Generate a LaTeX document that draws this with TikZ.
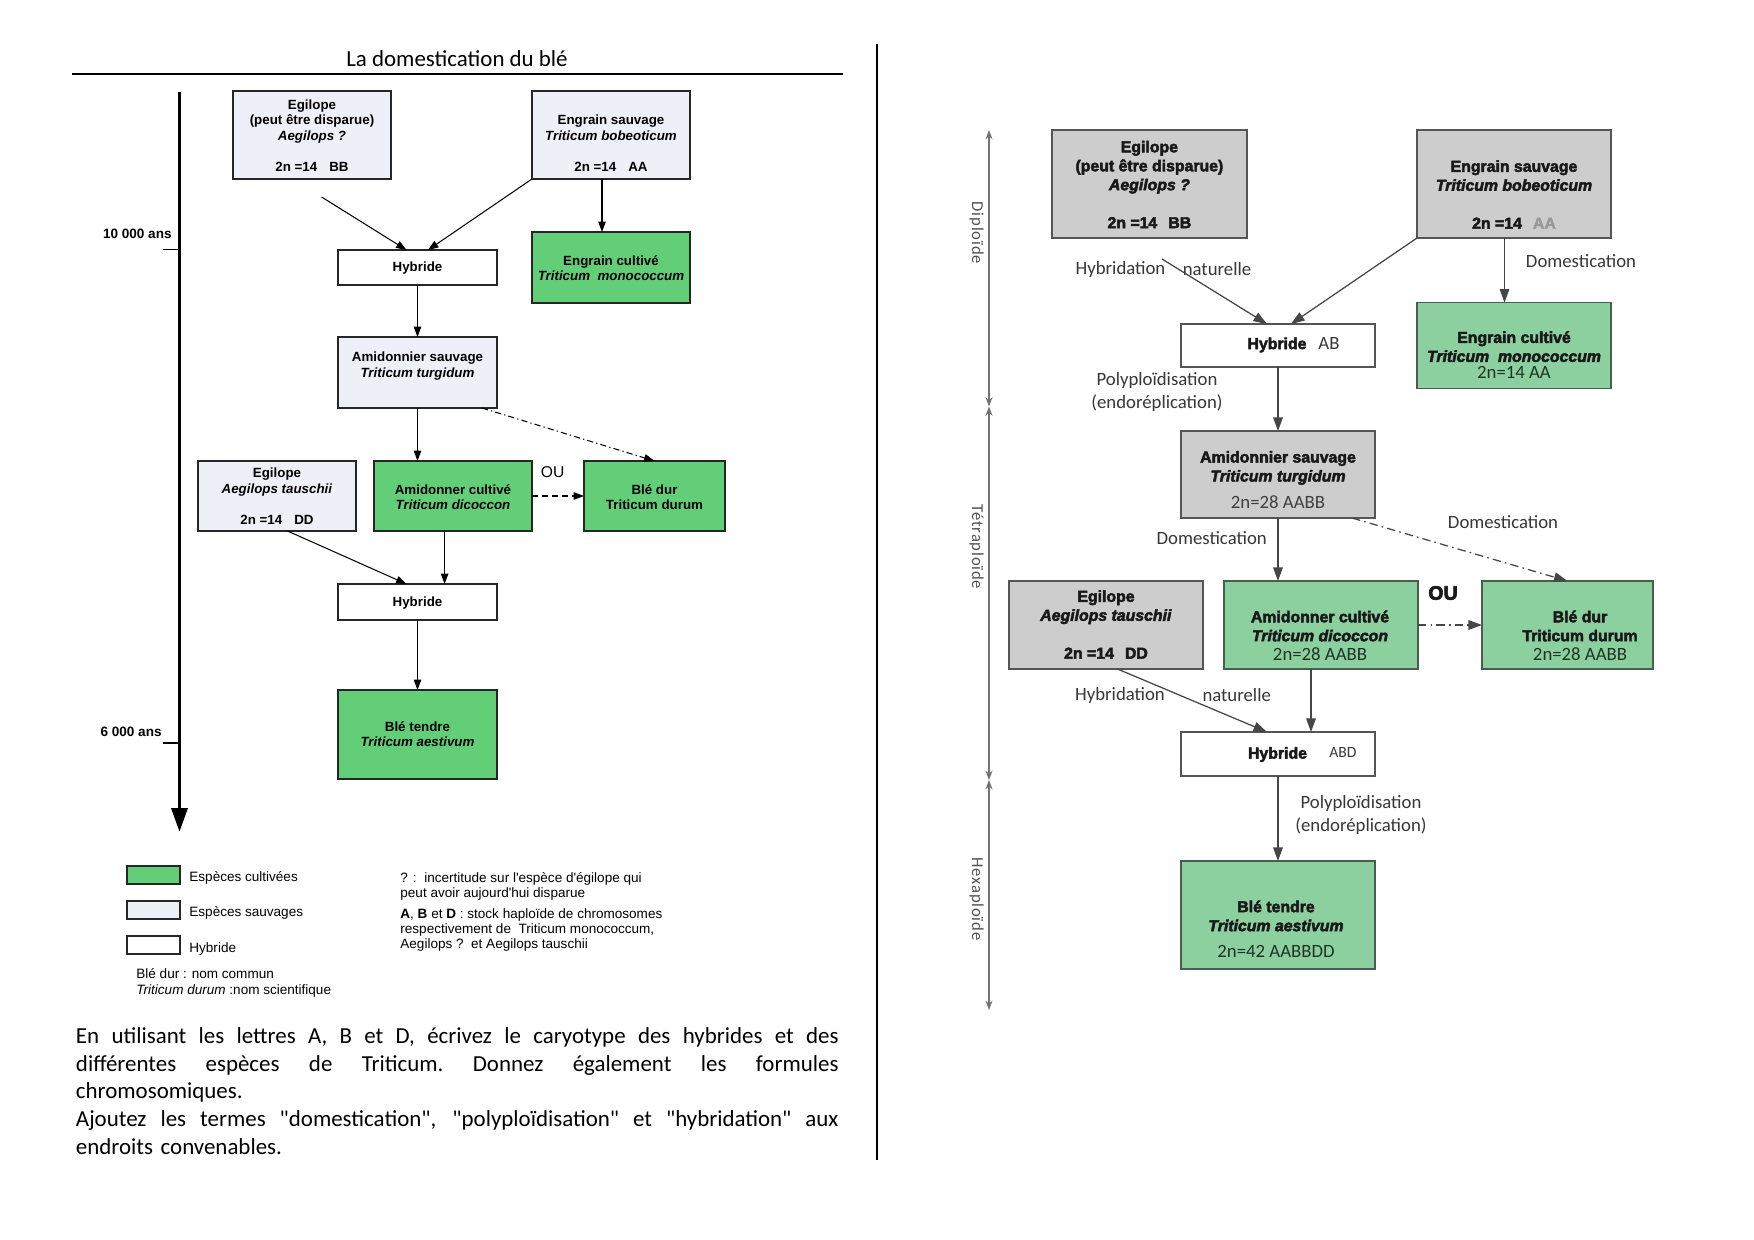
\documentclass[tikz,border=0pt]{standalone}
\usepackage{fontspec}
\setmainfont{Carlito}
\newfontfamily\arial{Liberation Sans}
\newfontfamily\heavy[BoldFeatures={FakeBold=3},BoldItalicFeatures={FakeBold=3}]{Liberation Sans}
\newfontfamily\calib{Carlito}
\newfontfamily\calibsp[LetterSpace=5]{Carlito}
\newcommand\sq{\XeTeXglyph\XeTeXcharglyph"22\relax}
\newcommand\jline[1]{\noindent\hbox to 366pt{\spaceskip=0.226em plus 2em\relax\xspaceskip=\spaceskip #1}}
\usetikzlibrary{arrows.meta,calc}
\definecolor{lgreen}{RGB}{99,206,120}
\definecolor{lwildc}{RGB}{238,240,248}
\definecolor{rgrayc}{RGB}{205,205,205}
\definecolor{rborder}{RGB}{85,85,85}
\definecolor{rgreen}{RGB}{141,208,160}
\definecolor{rgreenb}{RGB}{70,95,78}
\definecolor{rtext}{RGB}{25,25,25}
\definecolor{labc}{RGB}{55,55,55}
\definecolor{gtext}{RGB}{30,52,36}
\definecolor{rarrc}{RGB}{70,70,70}
\begin{document}
\begin{tikzpicture}[x=0.48pt,y=-0.48pt,
  wh/.style 2 args={minimum width=#1*0.48pt, minimum height=#2*0.48pt},
  boxbase/.style={draw, inner sep=0pt, outer sep=0pt, line width=0.7pt},
  lwild/.style={boxbase, fill=lwildc, draw=black!85},
  lcult/.style={boxbase, fill=lgreen, draw=black!85},
  lhyb/.style={boxbase, fill=white, draw=black!85},
  ltxt/.style={font=\arial\bfseries\fontsize{6.4}{7.5}\selectfont, align=center, inner sep=0pt},
  lsmall/.style={font=\arial\fontsize{6.5}{7.5}\selectfont, inner sep=0pt, align=left},
  rgray/.style={boxbase, fill=rgrayc, draw=rborder},
  rcult/.style={boxbase, fill=rgreen, draw=rgreenb},
  rhyb/.style={boxbase, fill=white, draw=rborder},
  rtxt/.style={font=\heavy\bfseries\fontsize{7.6}{9.1}\selectfont, align=center, inner sep=0pt, text=rtext},
  clab/.style={font=\calib\fontsize{9}{10.5}\selectfont, inner sep=0pt, text=labc},
  ploid/.style={font=\calibsp\fontsize{8}{9}\selectfont, inner sep=0pt, text=black!68, rotate=-90},
  larr/.style={draw=black, line width=0.5pt, -{Triangle[length=5pt,width=3.6pt]}},
  rarr/.style={draw=rarrc, line width=0.6pt, -{Triangle[length=6.5pt,width=4.6pt]}},
  scalearr/.style={draw=black!55, line width=0.5pt, {Stealth[length=4.5pt,width=3.4pt]}-{Stealth[length=4.5pt,width=3.4pt]}},
  ldashdot/.style={dash pattern=on 3pt off 1.5pt on 0.6pt off 1.5pt},
  rdashdot/.style={dash pattern=on 4pt off 2pt on 0.8pt off 2pt}
]
\useasboundingbox (0,0) rectangle (1754,1240);
\fill[white] (0,0) rectangle (1754,1240);

% ---------------- LEFT PAGE ----------------
\node[font=\fontsize{11}{13}\selectfont, inner sep=0pt] (title) at (457,59) {La domestication du blé};
\coordinate (ruleL) at (71.6,74);
\coordinate (ruleR) at (843,74);
\draw[line width=0.7pt] (ruleL) -- (ruleR);

% divider
\coordinate (divT) at (877,44);
\coordinate (divB) at (877,1160);
\draw[line width=1.2pt] (divT) -- (divB);

% timeline
\coordinate (tl0) at (179.5,92);
\coordinate (tl1) at (179.5,832);
\draw[line width=1.9pt, -{Triangle[length=11.5pt,width=7.6pt]}] (tl0) -- (tl1);
\coordinate (tk1a) at (163,249.3);
\coordinate (tk2a) at (163,743);
\draw[line width=0.5pt] (tk1a) -- (tk1a -| tl0);
\draw[line width=0.5pt] (tk2a) -- (tk2a -| tl0);
\node[font=\arial\bfseries\fontsize{6.5}{7.5}\selectfont, inner sep=0pt, anchor=east] (t10k) at (172,234) {10 000 ans};
\node[font=\arial\bfseries\fontsize{6.5}{7.5}\selectfont, inner sep=0pt, anchor=east] (t6k) at (162,732) {6 000 ans};

% boxes
\node[lwild, wh={158}{88}] (LEg) at (312,135) {};
\node[ltxt] (LEg-t) at (312,135.5) {Egilope\\(peut être disparue)\\\textit{Aegilops ?}\\[7.5pt]2n =14\hspace{0.9em}BB};
\node[lwild, wh={158}{88}] (LEs) at (611,135) {};
\node[ltxt] (LEs-t) at (611,143.5) {Engrain sauvage\\\textit{Triticum bobeoticum}\\[7.5pt]2n =14\hspace{0.9em}AA};
\node[lhyb, wh={159}{35}] (LH1) at (417.5,267.5) {};
\node[ltxt] (LH1-t) at (417.5,268) {Hybride};
\node[lcult, wh={158}{71}] (LEc) at (611,267.5) {};
\node[ltxt] (LEc-t) at (611,268) {Engrain cultivé\\\textit{Triticum \ monococcum}};
\node[lwild, wh={159}{71}] (LAs) at (417.5,372.5) {};
\node[ltxt] (LAs-t) at (417.5,366) {Amidonnier sauvage\\\textit{Triticum turgidum}};
\node[lwild, wh={158}{70}] (LEt) at (277,496) {};
\node[ltxt] (LEt-t) at (277,496.5) {Egilope\\\textit{Aegilops tauschii}\\[7.5pt]2n =14\hspace{0.9em}DD};
\node[lcult, wh={158}{70}] (LAc) at (453,496) {};
\node[ltxt] (LAc-t) at (453,497) {Amidonner cultivé\\\textit{Triticum dicoccon}};
\node[lcult, wh={141}{70}] (LBd) at (654.5,496) {};
\node[ltxt] (LBd-t) at (654.5,497) {Blé dur\\Triticum durum};
\node[lhyb, wh={159}{36}] (LH2) at (417.5,602) {};
\node[ltxt] (LH2-t) at (417.5,603) {Hybride};
\node[lcult, wh={159}{89}] (LBt) at (417.5,734.5) {};
\node[ltxt] (LBt-t) at (417.5,734) {Blé tendre\\\textit{Triticum aestivum}};
\node[font=\arial\fontsize{7.5}{9}\selectfont, inner sep=0pt] (LOU) at (552.6,472) {OU};

% left connectors
\coordinate (lA) at (321.6,197);
\draw[larr] (lA) -- ($(LH1.north)+(-11,0)$);
\draw[larr] (LEs.south west) -- ($(LH1.north)+(10.5,0)$);
\coordinate (lB) at ($(LEs.south)+(-9,0)$);
\draw[larr] (lB) -- (lB |- LEc.north);
\draw[larr] (LH1.south) -- (LAs.north);
\draw[larr] (LAs.south) -- (LAs.south |- LAc.north);
\draw[larr, ldashdot] ($(LAs.south east)+(-15,0)$) -- (LBd.north);
\draw[larr, dash pattern=on 3pt off 1.8pt] (LAc.east) -- (LBd.west);
\coordinate (lC) at ($(LEt.south)+(10.5,0)$);
\draw[larr] (lC) -- ($(LH2.north)+(-11,0)$);
\coordinate (lD) at ($(LAc.south)+(-8.4,0)$);
\draw[larr] (lD) -- (lD |- LH2.north);
\draw[larr] (LH2.south) -- (LBt.north);

% legend
\node[lcult, wh={53}{18}] (lg1) at (153.5,875) {};
\node[lwild, wh={53}{18}] (lg2) at (153.5,910) {};
\node[lhyb, wh={53}{18}] (lg3) at (153.5,945) {};
\node[lsmall, anchor=west] (lg1-t) at (189,878) {Espèces cultivées};
\node[lsmall, anchor=west] (lg2-t) at (189,913) {Espèces sauvages};
\node[lsmall, anchor=west] (lg3-t) at (189,948.6) {Hybride};
\node[lsmall, anchor=west, font=\arial\fontsize{6.5}{7.6}\selectfont] (lg4) at (136,982.6) {Blé dur : nom commun\\\textit{Triticum durum} :nom scientifique};
\node[lsmall, anchor=west, font=\arial\fontsize{6.5}{7.4}\selectfont] (note1) at (400,886.3) {? :\ \ incertitude sur l'espèce d'égilope qui\\peut avoir aujourd'hui disparue};
\node[lsmall, anchor=west, font=\arial\fontsize{6.5}{7.4}\selectfont] (note2) at (400,930) {\textbf{A}, \textbf{B} et \textbf{D} : stock haploïde de chromosomes\\respectivement de \ Triticum monococcum,\\Aegilops ?\ \ et Aegilops tauschii};

% paragraph
\node[inner sep=0pt, text width=366pt, align=left, font=\fontsize{11}{13.3}\selectfont] (para) at (457.25,1091) {%
\jline{En utilisant les lettres A, B et D, écrivez le caryotype des hybrides et des}\\
\jline{différentes espèces de Triticum. Donnez également les formules}\\
chromosomiques.\\
\jline{Ajoutez les termes \sq domestication\sq, \sq polyploïdisation\sq{} et \sq hybridation\sq{} aux}\\
endroits convenables.};

% ---------------- RIGHT PAGE ----------------
\coordinate (s0) at (989,130);
\coordinate (s1) at (989,406.5);
\coordinate (s2) at (989,780);
\coordinate (s3) at (989,1010);
\draw[scalearr] (s0) -- (s1);
\draw[scalearr] (s1) -- (s2);
\draw[scalearr] (s2) -- (s3);
\node[ploid] (pD) at (976.5,233) {Diploïde};
\node[ploid] (pT) at (976.5,547) {Tétraploïde};
\node[ploid] (pH) at (976.5,899) {Hexaploïde};

\node[rgray, wh={195}{108}] (REg) at (1149.4,184) {};
\node[rtxt] (REg-t) at (1149.4,184.5) {Egilope\\(peut être disparue)\\\textit{Aegilops ?}\\[9.1pt]2n =14\hspace{0.7em}BB};
\node[rgray, wh={194}{108}] (REs) at (1514,184) {};
\node[rtxt] (REs-t) at (1514,194.5) {Engrain sauvage\\\textit{Triticum bobeoticum}\\[9.1pt]2n =14\hspace{0.7em}{\color{black!40}AA}};
\node[rcult, wh={194}{86}] (REc) at (1514,345.6) {};
\node[rtxt] (REc-t) at (1514,355) {Engrain cultivé\\\textit{Triticum \ monococcum}\\[-1pt]{\calib\mdseries\fontsize{9}{9.1}\selectfont\color{gtext}2n=14 AA}};
\node[rhyb, wh={194}{43}] (RH1) at (1278,345.5) {};
\node[rtxt] (RH1-t) at (1277,345) {Hybride};
\node[clab] (RH1-g) at (1329,343) {AB};
\node[rgray, wh={194}{87}] (RAs) at (1278,474.5) {};
\node[rtxt] (RAs-t) at (1278,480) {Amidonnier sauvage\\\textit{Triticum turgidum}\\[4pt]{\calib\mdseries\fontsize{9}{9.1}\selectfont\color{black!75}2n=28 AABB}};
\node[rgray, wh={194}{88}] (REt) at (1106,625) {};
\node[rtxt] (REt-t) at (1106,624.5) {Egilope\\\textit{Aegilops tauschii}\\[9.1pt]2n =14\hspace{0.7em}DD};
\node[rcult, wh={194}{88}] (RAc) at (1321,625) {};
\node[rtxt] (RAc-t) at (1320,635.5) {Amidonner cultivé\\\textit{Triticum dicoccon}\\{\calib\mdseries\fontsize{9}{9.1}\selectfont\color{gtext}2n=28 AABB}};
\node[rcult, wh={171}{88}] (RBd) at (1567.5,625) {};
\node[rtxt] (RBd-t) at (1580,635.5) {Blé dur\\Triticum durum\\{\calib\mdseries\fontsize{9}{9.1}\selectfont\color{gtext}2n=28 AABB}};
\node[rhyb, wh={194}{44}] (RH2) at (1278,754) {};
\node[rtxt] (RH2-t) at (1277.5,754.5) {Hybride};
\node[clab, font=\calib\fontsize{7.5}{9}\selectfont] (RH2-g) at (1343,752) {ABD};
\node[rcult, wh={194}{108}] (RBt) at (1278,915) {};
\node[rtxt] (RBt-t) at (1276,929) {Blé tendre\\\textit{Triticum aestivum}\\[3.5pt]{\calib\mdseries\fontsize{9}{9.1}\selectfont\color{gtext}2n=42 AABBDD}};
\node[font=\heavy\bfseries\fontsize{9.4}{11}\selectfont, inner sep=0pt, text=rtext] (ROU) at (1443,593) {OU};

% labels
\node[clab] (lab1) at (1120.5,269) {Hybridation};
\node[clab] (lab2) at (1217,269) {naturelle};
\node[clab] (lab3) at (1581,261) {Domestication};
\node[clab, align=center, font=\calib\fontsize{9}{10.6}\selectfont] (lab4) at (1157,392) {Polyploïdisation\\(endoréplication)};
\node[clab] (lab5) at (1503,522) {Domestication};
\node[clab] (lab6) at (1211.7,537.7) {Domestication};
\node[clab] (lab7) at (1120,695) {Hybridation};
\node[clab] (lab8) at (1236.7,695) {naturelle};
\node[clab, align=center, font=\calib\fontsize{9}{10.6}\selectfont] (lab9) at (1361,815) {Polyploïdisation\\(endoréplication)};

% right connectors
\coordinate (rA) at (1162,259);
\draw[rarr] (rA) -- ($(RH1.north)+(-11,0)$);
\draw[rarr] (REs.south west) -- ($(RH1.north)+(13,0)$);
\coordinate (rB) at ($(REs.south)+(-9.5,0)$);
\draw[rarr] (rB) -- (rB |- REc.north);
\draw[rarr] (RH1.south) -- (RAs.north);
\draw[rarr] (RAs.south) -- (RAs.south |- RAc.north);
\draw[rarr, rdashdot] ($(RAs.south east)+(-23,0)$) -- (RBd.north);
\draw[rarr, rdashdot] (RAc.east) -- (RBd.west);
\coordinate (rC) at ($(REt.south)+(11.5,0)$);
\draw[rarr] (rC) -- ($(RH2.north)+(-11,0)$);
\coordinate (rD) at ($(RAc.south)+(-10,0)$);
\draw[rarr] (rD) -- (rD |- RH2.north);
\draw[rarr] (RH2.south) -- (RBt.north);
\end{tikzpicture}
\end{document}
